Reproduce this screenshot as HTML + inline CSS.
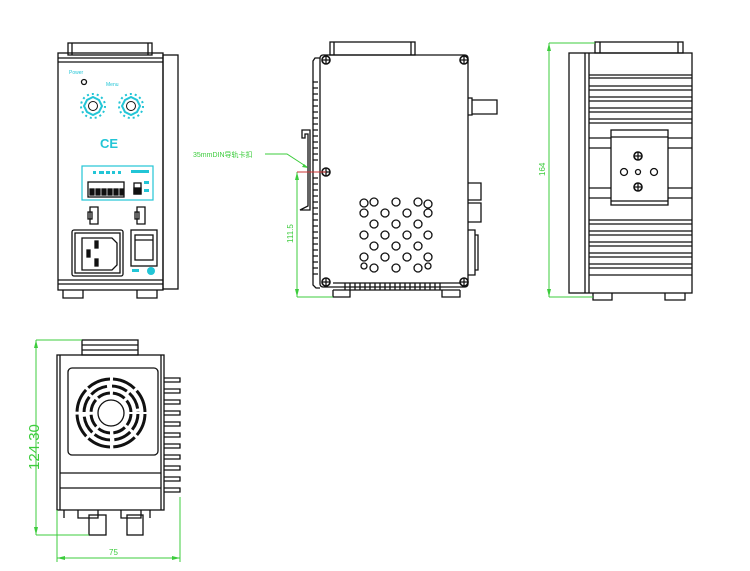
<!DOCTYPE html>
<html><head><meta charset="utf-8"><style>
html,body{margin:0;padding:0;background:#fff;width:750px;height:571px;overflow:hidden}
svg{display:block}
text{font-family:"Liberation Sans","Noto Sans CJK SC",sans-serif}
</style></head><body>
<svg width="750" height="571" viewBox="0 0 750 571" xmlns="http://www.w3.org/2000/svg">
<g fill="none" stroke="#111" stroke-width="1.3">
<!-- VIEW 1 front -->
<rect x="68" y="43" width="84" height="12"/>
<line x1="72" y1="43" x2="72" y2="55"/><line x1="148" y1="43" x2="148" y2="55"/>
<rect x="58" y="53" width="105" height="237"/>
<rect x="163" y="55" width="15" height="234"/>
<line x1="58" y1="58" x2="163" y2="58"/><line x1="58" y1="62" x2="163" y2="62"/>
<line x1="58" y1="280" x2="163" y2="280"/><line x1="58" y1="284" x2="163" y2="284"/>
<path d="M63 290 v8 h20 v-8 M137 290 v8 h20 v-8"/>
<circle cx="84" cy="82" r="2.5"/>
<rect x="72" y="230" width="51" height="46" rx="2"/>
<rect x="75" y="233" width="45" height="40"/>
<path d="M82 238 h30 l5 5 v22 l-5 5 h-30 z"/>
<rect x="95" y="241" width="3" height="7" fill="#111"/>
<rect x="87" y="250" width="3" height="7" fill="#111"/>
<rect x="95" y="259" width="3" height="7" fill="#111"/>
<rect x="131" y="230" width="26" height="36"/>
<rect x="135" y="235" width="18" height="25"/>
<line x1="135" y1="240" x2="153" y2="240"/>
<rect x="88" y="182" width="36" height="15"/>
<g fill="#111"><rect x="90" y="189" width="4" height="6"/><rect x="96" y="189" width="4" height="6"/><rect x="102" y="189" width="4" height="6"/><rect x="108" y="189" width="4" height="6"/><rect x="114" y="189" width="4" height="6"/><rect x="120" y="189" width="3" height="6"/></g>
<rect x="134" y="183" width="7" height="11"/><rect x="134" y="188" width="7" height="6" fill="#111"/>
<path d="M90 207 h8 v17 h-8 z M88 212 h4 v7 h-4 z"/>
<path d="M137 207 h8 v17 h-8 z M135 212 h4 v7 h-4 z"/>

<!-- VIEW 2 side -->
<rect x="330" y="42" width="85" height="13"/>
<line x1="334" y1="42" x2="334" y2="55"/><line x1="411" y1="42" x2="411" y2="55"/>
<rect x="320" y="55" width="148" height="232" rx="3"/>
<path d="M320 58 h-5 l-2 3 v224 l3 3 h4"/>
<path d="M313 82 h5 M313 88 h5 M313 94 h5 M313 100 h5 M313 106 h5 M313 112 h5 M313 118 h5 M313 124 h5 M313 130 h5 M313 136 h5 M313 142 h5 M313 148 h5 M313 154 h5 M313 160 h5 M313 178 h5 M313 184 h5 M313 190 h5 M313 196 h5 M313 202 h5 M313 208 h5 M313 214 h5 M313 220 h5 M313 226 h5 M313 232 h5 M313 238 h5 M313 244 h5 M313 250 h5 M313 256 h5 M313 262 h5 M313 268 h5 M313 274 h5"/>
<path d="M310 135 v-5 h-8 v8 h3 v-4 h3 v72 l-8 4 h10 z"/>
<path d="M468 98 h4 v17 h-4 M472 100 h25 v14 h-25"/>
<path d="M468 183 h13 v17 h-13 M468 203 h13 v19 h-13 M468 230 h7 v45 h-7 M475 235 h3 v35 h-3"/>
<line x1="333" y1="283" x2="460" y2="283"/><line x1="333" y1="290" x2="460" y2="290"/>
<path d="M345 283 v7 M350 283 v7 M355 283 v7 M360 283 v7 M365 283 v7 M370 283 v7 M375 283 v7 M380 283 v7 M385 283 v7 M390 283 v7 M395 283 v7 M400 283 v7 M405 283 v7 M410 283 v7 M415 283 v7 M420 283 v7 M425 283 v7 M430 283 v7 M435 283 v7 M440 283 v7"/>
<path d="M333 290 v7 h17 v-7 M442 290 v7 h18 v-7"/>
<g>
<circle cx="364" cy="203" r="4"/><circle cx="374" cy="202" r="4"/><circle cx="396" cy="202" r="4"/><circle cx="418" cy="202" r="4"/><circle cx="428" cy="204" r="4"/>
<circle cx="364" cy="213" r="4"/><circle cx="385" cy="213" r="4"/><circle cx="407" cy="213" r="4"/><circle cx="428" cy="213" r="4"/>
<circle cx="374" cy="224" r="4"/><circle cx="396" cy="224" r="4"/><circle cx="418" cy="224" r="4"/>
<circle cx="364" cy="235" r="4"/><circle cx="385" cy="235" r="4"/><circle cx="407" cy="235" r="4"/><circle cx="428" cy="235" r="4"/>
<circle cx="374" cy="246" r="4"/><circle cx="396" cy="246" r="4"/><circle cx="418" cy="246" r="4"/>
<circle cx="364" cy="257" r="4"/><circle cx="385" cy="257" r="4"/><circle cx="407" cy="257" r="4"/><circle cx="428" cy="257" r="4"/>
<circle cx="364" cy="266" r="3"/><circle cx="374" cy="268" r="4"/><circle cx="396" cy="268" r="4"/><circle cx="418" cy="268" r="4"/><circle cx="428" cy="266" r="3"/>
</g>
<g stroke-width="1.6">
<circle cx="326" cy="60" r="4"/><circle cx="464" cy="60" r="4"/><circle cx="326" cy="282" r="4"/><circle cx="464" cy="282" r="4"/><circle cx="326" cy="172" r="4"/>
</g>
<path d="M322 60 h8 M326 56 v8 M460 60 h8 M464 56 v8 M322 282 h8 M326 278 v8 M460 282 h8 M464 278 v8 M322 172 h8 M326 168 v8"/>

<!-- VIEW 3 back -->
<rect x="595" y="42" width="88" height="11"/>
<line x1="600" y1="42" x2="600" y2="53"/><line x1="678" y1="42" x2="678" y2="53"/>
<rect x="569" y="53" width="123" height="240"/>
<line x1="585" y1="53" x2="585" y2="293"/><line x1="589" y1="53" x2="589" y2="293"/>
<path d="M593 293 v7 h19 v-7 M665 293 v7 h20 v-7"/>
<path d="M589 75 h103 M589 78 h103 M589 86 h103 M589 90 h103 M589 97 h103 M589 101 h103 M589 108 h103 M589 112 h103 M589 119 h103 M589 123 h103 M589 138 h22 M668 138 h24 M589 148 h22 M668 148 h24 M589 188 h22 M668 188 h24 M589 198 h22 M668 198 h24 M589 220 h103 M589 224 h103 M589 231 h103 M589 235 h103 M589 242 h103 M589 246 h103 M589 253 h103 M589 257 h103 M589 264 h103 M589 268 h103 M589 275 h103"/>
<rect x="611" y="130" width="57" height="75"/>
<line x1="611" y1="137" x2="668" y2="137"/><line x1="611" y1="201" x2="668" y2="201"/>
<circle cx="624" cy="172" r="3.5"/><circle cx="638" cy="172" r="2.5"/><circle cx="654" cy="172" r="3.5"/>
<circle cx="638" cy="156" r="4" stroke-width="1.6"/><circle cx="638" cy="187" r="4" stroke-width="1.6"/>
<path d="M634 156 h8 M638 152 v8 M634 187 h8 M638 183 v8"/>

<!-- VIEW 4 top -->
<rect x="82" y="340" width="56" height="15"/>
<line x1="82" y1="345" x2="138" y2="345"/><line x1="82" y1="350" x2="138" y2="350"/>
<rect x="57" y="355" width="107" height="155"/>
<line x1="60" y1="355" x2="60" y2="510"/><line x1="161" y1="355" x2="161" y2="510"/>
<rect x="68" y="368" width="90" height="87" rx="4"/>
<line x1="60" y1="473" x2="161" y2="473"/><line x1="60" y1="488" x2="161" y2="488"/>
<path d="M164 378 h16 v4 h-16 M164 389 h16 v4 h-16 M164 400 h16 v4 h-16 M164 411 h16 v4 h-16 M164 422 h16 v4 h-16 M164 433 h16 v4 h-16 M164 444 h16 v4 h-16 M164 455 h16 v4 h-16 M164 466 h16 v4 h-16 M164 477 h16 v4 h-16 M164 488 h16 v4 h-16"/>
<g stroke-width="3" stroke="#111">
<circle cx="111" cy="413" r="34" stroke-dasharray="24 3"/>
<circle cx="111" cy="413" r="27" stroke-dasharray="18 3"/>
<circle cx="111" cy="413" r="20" stroke-dasharray="13 3"/>
</g>
<g stroke="#fff" stroke-width="2"><line x1="111" y1="377" x2="111" y2="449"/><line x1="75" y1="413" x2="147" y2="413"/></g>
<circle cx="111" cy="413" r="13"/>
<path d="M78 510 v8 h20 v-8 M121 510 v8 h20 v-8"/>
<rect x="89" y="515" width="17" height="20"/><rect x="127" y="515" width="16" height="20"/>
<path d="M64 510 v8 M150 510 v8"/>
</g>

<!-- teal details -->
<g fill="none" stroke="#22c5d6" stroke-width="2">
<path d="M93 97 l6 3 3 6 -3 6 -6 3 -6 -3 -3 -6 3 -6z" />
<path d="M131 97 l6 3 3 6 -3 6 -6 3 -6 -3 -3 -6 3 -6z" />
</g>
<g fill="#fff" stroke="#111"><circle cx="93" cy="106" r="4.5"/><circle cx="131" cy="106" r="4.5"/></g>
<g stroke="#22c5d6" stroke-width="2" stroke-dasharray="2 3">
<circle cx="93" cy="106" r="12" fill="none"/><circle cx="131" cy="106" r="12" fill="none"/>
</g>
<rect x="82" y="166" width="71" height="34" fill="none" stroke="#22c5d6" stroke-width="1.2"/>
<g fill="#22c5d6">
<rect x="93" y="171" width="3" height="3"/><rect x="99" y="171" width="5" height="3"/><rect x="106" y="171" width="4" height="3"/><rect x="112" y="171" width="3" height="3"/><rect x="118" y="171" width="3" height="3"/><rect x="131" y="170" width="18" height="3"/>
<rect x="144" y="181" width="5" height="3"/><rect x="144" y="189" width="5" height="3"/>
<rect x="132" y="269" width="7" height="3"/><circle cx="151" cy="271" r="4"/>
</g>
<text x="100" y="148" font-size="13" font-weight="bold" fill="#22c5d6">CE</text>
<text x="69" y="74" font-size="5" fill="#22c5d6">Power</text>
<text x="106" y="86" font-size="5" fill="#22c5d6">Menu</text>

<!-- green dims -->
<g stroke="#3ccc3c" fill="none" stroke-width="1">
<line x1="297" y1="172" x2="297" y2="297"/><line x1="297" y1="297" x2="333" y2="297"/>
<path d="M265 154 h22 l20 13"/>
<line x1="549" y1="43" x2="549" y2="297"/><line x1="549" y1="43" x2="595" y2="43"/><line x1="549" y1="297" x2="593" y2="297"/>
<line x1="36" y1="340" x2="36" y2="535"/><line x1="36" y1="340" x2="82" y2="340"/><line x1="36" y1="535" x2="89" y2="535"/>
<line x1="57" y1="558" x2="180" y2="558"/><line x1="57" y1="510" x2="57" y2="562"/><line x1="180" y1="497" x2="180" y2="562"/>
</g>
<g fill="#3ccc3c">
<path d="M297 172 l-2 8 h4z M297 297 l-2 -8 h4z M549 43 l-2 8 h4z M549 297 l-2 -8 h4z M36 340 l-2 8 h4z M36 535 l-2 -8 h4z M57 558 l8 -2 v4z M180 558 l-8 -2 v4z M308 168 l-6 -1 2 -3z"/>
</g>
<line x1="297" y1="172" x2="326" y2="172" stroke="#c33" stroke-width="1"/>
<g fill="#3ccc3c" font-family="Liberation Sans, sans-serif">
<text x="193" y="157" font-size="7">35mmDIN导轨卡扣</text>
<text transform="translate(293,243) rotate(-90)" font-size="8">111.5</text>
<text transform="translate(545,176) rotate(-90)" font-size="8">164</text>
<text transform="translate(39,470) rotate(-90)" font-size="15">124.30</text>
<text x="109" y="555" font-size="8">75</text>
</g>
</svg>
</body></html>
